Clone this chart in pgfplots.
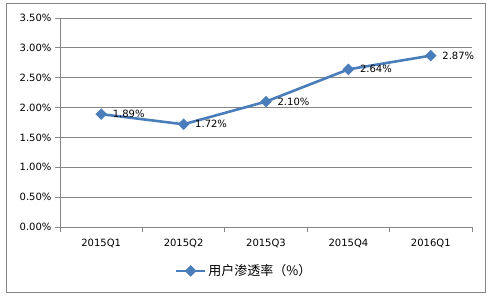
\documentclass[border=0pt]{standalone}
\usepackage{pgfplots}
\pgfplotsset{compat=1.18}
\usepackage{fontspec}
\setmainfont{DejaVu Sans}
\newfontfamily\cjk{Noto Sans CJK SC}
\definecolor{lineblue}{HTML}{4A7EBB}
\definecolor{gridgray}{HTML}{868686}
\begin{document}
\begin{tikzpicture}[x=1pt,y=1pt]
\useasboundingbox (0,0) rectangle (494,298);
\draw[gridgray, line width=1pt] (6,6) rectangle (485,294);
\begin{axis}[
  at={(60pt,71pt)}, anchor=south west,
  width=412pt, height=209pt, scale only axis,
  xmin=-0.5, xmax=4.5, ymin=0, ymax=3.5,
  xtick={0,1,2,3,4},
  xticklabels={2015Q1,2015Q2,2015Q3,2015Q4,2016Q1},
  major x tick style={draw=none},
  minor xtick={-0.5,0.5,1.5,2.5,3.5,4.5},
  ytick={0,0.5,1,1.5,2,2.5,3,3.5},
  yticklabels={0.00\%,0.50\%,1.00\%,1.50\%,2.00\%,2.50\%,3.00\%,3.50\%},
  ymajorgrids, grid style={gridgray, line width=0.8pt},
  axis x line*=bottom, axis y line*=left,
  axis line style={gridgray, line width=0.8pt, -},
  tick align=outside, major tick length=5pt, minor tick length=5pt,
  tick style={gridgray, line width=0.8pt},
  ticklabel style={font=\fontsize{10}{12}\selectfont, black},
  xticklabel style={yshift=-4pt},
  legend style={draw=none, at={(0.447,-0.21)}, anchor=center, font=\cjk\fontsize{13}{15}\selectfont},
  legend image code/.code={\draw[mark repeat=2,mark phase=2,#1] plot coordinates {(0pt,0pt) (14.5pt,0pt) (29pt,0pt)};},
]
\addplot[lineblue, line width=2.6pt, mark=square*, mark size=2.8pt,
  mark options={rotate=45, solid},
  nodes near coords={\pgfmathprintnumber[fixed,fixed zerofill,precision=2,assume math mode=true]{\pgfplotspointmeta}\%},
  point meta=y,
  every node near coord/.style={anchor=west, xshift=7pt, black, font=\fontsize{10}{12}\selectfont}]
coordinates {(0,1.89) (1,1.72) (2,2.10) (3,2.64) (4,2.87)};
\addlegendentry{用户渗透率（\%）}
\end{axis}
\end{tikzpicture}
\end{document}
